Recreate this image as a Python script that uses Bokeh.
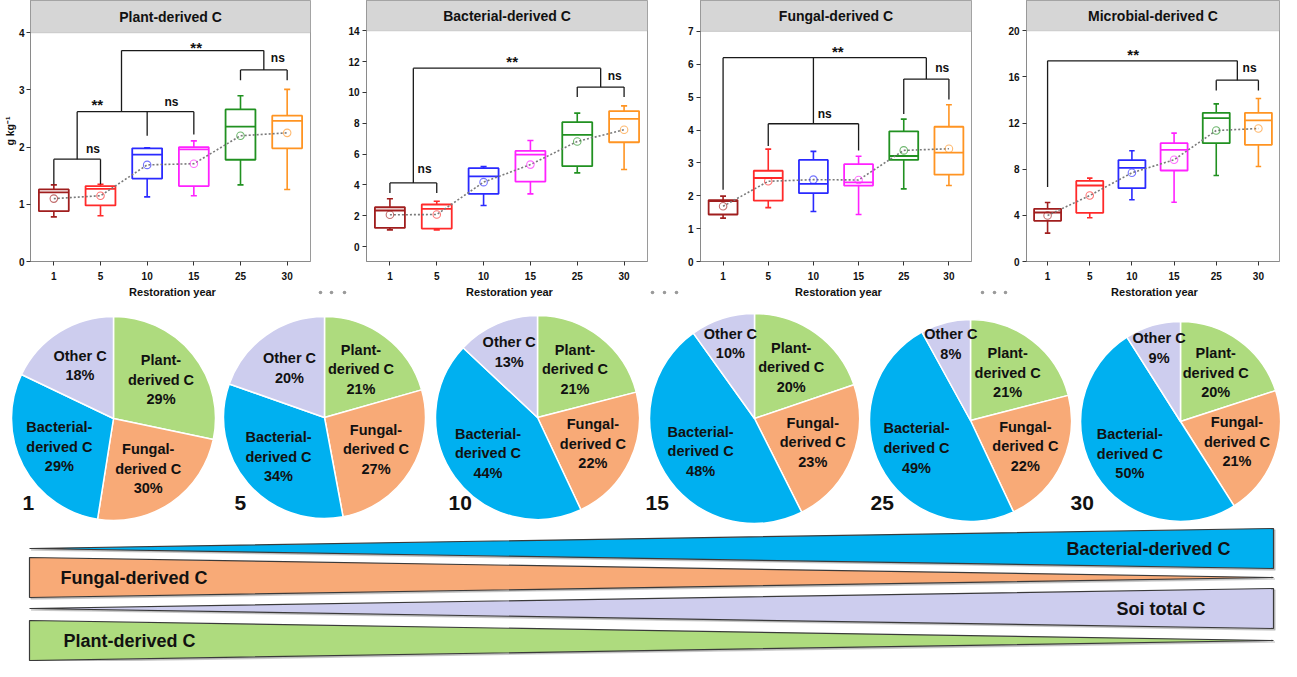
import math
from bokeh.plotting import figure
from bokeh.models import FactorRange, Range1d, FixedTicker, BoxAnnotation, Label, ColumnDataSource
from bokeh.layouts import row, column
from bokeh.embed import file_html
from bokeh.resources import INLINE
from bokeh.core.properties import value

FONT = "Liberation Sans"

# ---------------- data ----------------
years = ["1", "5", "10", "15", "25", "30"]
box_colors = ["#a01e1e", "#ff2a2a", "#2a2aff", "#ff22ff", "#219121", "#ff9422"]

# Plant-derived C (g kg-1)
plant_lo = [0.78, 0.80, 1.13, 1.15, 1.34, 1.26]
plant_q1 = [0.88, 0.98, 1.45, 1.32, 1.78, 1.98]
plant_med = [1.21, 1.27, 1.87, 1.96, 2.36, 2.46]
plant_q3 = [1.26, 1.32, 1.98, 2.00, 2.66, 2.55]
plant_hi = [1.34, 1.35, 1.99, 2.11, 2.90, 3.01]
plant_mean = [1.10, 1.15, 1.69, 1.71, 2.20, 2.25]

# Bacterial-derived C
bact_lo = [1.08, 1.08, 2.66, 3.42, 4.78, 5.00]
bact_q1 = [1.21, 1.17, 3.42, 4.22, 5.22, 6.77]
bact_med = [2.34, 2.45, 4.55, 5.97, 7.25, 8.29]
bact_q3 = [2.55, 2.73, 5.09, 6.21, 8.07, 8.79]
bact_hi = [3.10, 2.94, 5.19, 6.88, 8.66, 9.13]
bact_mean = [2.06, 2.08, 4.18, 5.32, 6.82, 7.58]

# Fungal-derived C
fung_lo = [1.32, 1.64, 1.52, 1.43, 2.21, 2.31]
fung_q1 = [1.43, 1.85, 2.08, 2.31, 3.09, 2.64]
fung_med = [1.84, 2.54, 2.36, 2.41, 3.21, 3.31]
fung_q3 = [1.87, 2.76, 3.09, 2.96, 3.96, 4.10]
fung_hi = [1.99, 3.42, 3.35, 3.20, 4.33, 4.77]
fung_mean = [1.68, 2.44, 2.49, 2.48, 3.38, 3.43]

# Microbial-derived C
micro_lo = [2.46, 3.79, 5.35, 5.14, 7.46, 8.24]
micro_q1 = [3.53, 4.22, 6.36, 7.89, 10.26, 10.12]
micro_med = [4.25, 6.59, 8.12, 9.68, 12.43, 12.23]
micro_q3 = [4.57, 6.99, 8.79, 10.26, 12.89, 12.89]
micro_hi = [5.12, 7.23, 9.60, 11.13, 13.67, 14.13]
micro_mean = [3.99, 5.72, 7.69, 8.82, 11.36, 11.53]

# significance brackets: (legs [(x on category axis, leg bottom)], bar height)
plant_brackets = [
    ([(0.5, 1.35), (1.5, 1.35)], 1.79),
    ([(1.0, 1.79), (2.5, 2.20), (3.5, 2.22)], 2.62),
    ([(4.5, 3.17), (5.5, 3.17)], 3.35),
    ([(1.95, 2.62), (5.0, 3.35)], 3.69),
]
plant_sig = [(1.34, 1.97, "ns"), (1.43, 2.75, "**"), (3.02, 2.79, "ns"),
             (5.30, 3.56, "ns"), (3.55, 3.74, "**")]

bact_brackets = [
    ([(0.5, 3.47), (1.5, 3.47)], 4.13),
    ([(4.5, 9.70), (5.5, 9.70)], 10.35),
    ([(1.0, 4.13), (5.0, 10.35)], 11.58),
]
bact_sig = [(1.24, 5.04, "ns"), (5.30, 11.10, "ns"), (3.11, 12.0, "**")]

fung_brackets = [
    ([(1.5, 3.51), (3.5, 3.38)], 4.19),
    ([(4.5, 4.49), (5.5, 4.93)], 5.55),
    ([(0.5, 2.18), (2.5, 4.19), (5.0, 5.55)], 6.20),
]
fung_sig = [(2.75, 4.49, "ns"), (5.35, 5.89, "ns"), (3.04, 6.38, "**")]

micro_brackets = [
    ([(4.5, 14.83), (5.5, 14.83)], 15.72),
    ([(0.5, 6.45), (5.0, 15.72)], 17.40),
]
micro_sig = [(5.29, 16.82, "ns"), (2.53, 17.98, "**")]

# pie charts: percentages shown and slice shares
pie_names = ["Plant-\nderived C", "Fungal-\nderived C", "Bacterial-\nderived C", "Other C"]
pie_colors = ["#aedb7e", "#f8aa77", "#00b0f0", "#cdcdee"]
plant_pct = [29, 21, 21, 20, 21, 20]
fungal_pct = [30, 27, 22, 23, 22, 21]
bact_pct = [29, 34, 44, 48, 49, 50]
other_pct = [18, 20, 13, 10, 8, 9]
plant_share = [28.3, 21, 21, 20, 21, 20]
fungal_share = [24.2, 27, 22, 23, 22, 21]
bact_share = [29.6, 34, 44, 48, 49, 50]
other_share = [17.9, 20, 13, 10, 8, 9]

# trend bands
band_names = ["Bacterial-derived C", "Fungal-derived C", "Soi total C", "Plant-derived C"]
band_colors = ["#00b0f0", "#f8aa77", "#cdcdee", "#aedb7e"]
band_trend = ["up", "down", "up", "down"]

# ---------------- layout constants ----------------
ROW_H = 284
MB_BOTTOM = 23
BOTTOM_H = 377


def box_panel(title, lo, q1, med, q3, hi, mean, y0, y1, ticks, brackets, sig,
              width, mbl, mbr, ylabel=None):
    p = figure(x_range=FactorRange(*years, range_padding=0), y_range=Range1d(y0, y1),
               width=width, height=ROW_H, output_backend="svg", toolbar_location=None,
               min_border_left=mbl, min_border_right=mbr, min_border_top=0,
               min_border_bottom=MB_BOTTOM)
    p.xgrid.visible = False
    p.ygrid.visible = False
    p.outline_line_color = "#9a9a9a"
    p.background_fill_color = "white"
    p.border_fill_color = "white"

    xs = [years.index(y) + 0.5 for y in years]
    src = ColumnDataSource(dict(
        x=xs, lo=lo, q1=q1, med=med, q3=q3, hi=hi, mean=mean, color=box_colors,
        xl=[x - 0.32 for x in xs], xr=[x + 0.32 for x in xs],
        cl=[x - 0.065 for x in xs], cr=[x + 0.065 for x in xs]))

    # whiskers + caps
    p.segment(x0="x", y0="q3", x1="x", y1="hi", source=src, line_color="color", line_width=1.6)
    p.segment(x0="x", y0="lo", x1="x", y1="q1", source=src, line_color="color", line_width=1.6)
    p.segment(x0="cl", y0="hi", x1="cr", y1="hi", source=src, line_color="color", line_width=1.6)
    p.segment(x0="cl", y0="lo", x1="cr", y1="lo", source=src, line_color="color", line_width=1.6)
    # boxes
    p.vbar(x="x", width=0.64, bottom="q1", top="q3", source=src, fill_color="white",
           line_color="color", line_width=1.8)
    p.segment(x0="xl", y0="med", x1="xr", y1="med", source=src, line_color="color", line_width=1.8)
    # mean trend
    p.line(x="x", y="mean", source=src, line_color="#7a7a7a", line_width=1.6, line_dash="2 2")
    p.scatter(x="x", y="mean", source=src, marker="circle", size=7.5, fill_color="white",
              fill_alpha=0.0, line_color="color", line_alpha=0.65, line_width=1.1)

    # significance brackets
    bx0, by0, bx1, by1 = [], [], [], []
    for legs, bar in brackets:
        lx = [l[0] for l in legs]
        bx0.append(min(lx)); bx1.append(max(lx)); by0.append(bar); by1.append(bar)
        for x, bot in legs:
            bx0.append(x); bx1.append(x); by0.append(bot); by1.append(bar)
    p.segment(x0=bx0, y0=by0, x1=bx1, y1=by1, line_color="#1a1a1a", line_width=1.3)
    p.text(x=[s[0] for s in sig], y=[s[1] for s in sig], text=[s[2] for s in sig],
           text_font=value(FONT), text_font_style="bold",
           text_font_size=["15px" if s[2] == "**" else "12px" for s in sig],
           text_align="center", text_baseline="middle", text_color="#111111")

    # title strip
    top_tick = ticks[-1]
    p.add_layout(BoxAnnotation(bottom=top_tick, fill_color="#d6d6d6", fill_alpha=1.0,
                               line_color="#8a8a8a", line_width=1))
    p.add_layout(Label(x=3, y=(top_tick + y1) / 2, text=title, text_align="center",
                       text_baseline="middle", text_font=FONT, text_font_size="14px",
                       text_font_style="bold", text_color="#111111"))

    # axes
    p.yaxis.ticker = FixedTicker(ticks=ticks)
    for ax in (p.xaxis[0], p.yaxis[0]):
        ax.axis_line_color = "#8a8a8a"
        ax.major_tick_line_color = "#333333"
        ax.major_tick_in = 0
        ax.major_tick_out = 4
        ax.minor_tick_line_color = None
        ax.major_label_text_font = FONT
        ax.major_label_text_font_style = "bold"
        ax.major_label_text_font_size = "10px"
        ax.major_label_text_color = "#111111"
        ax.axis_label_text_font = FONT
        ax.axis_label_text_font_style = "bold"
        ax.axis_label_text_color = "#111111"
    p.yaxis.major_label_standoff = 3
    p.xaxis.major_label_standoff = 6
    if ylabel:
        p.yaxis.major_label_standoff = 2
        p.yaxis.axis_label = ylabel
        p.yaxis.axis_label_text_font_size = "10.5px"
        p.yaxis.axis_label_standoff = 0
    return p


p1 = box_panel("Plant-derived C", plant_lo, plant_q1, plant_med, plant_q3, plant_hi, plant_mean,
               0, 4.565, [0, 1, 2, 3, 4], plant_brackets, plant_sig, 315, 28, 5,
               ylabel="g kg\u207b\u00b9")
p2 = box_panel("Bacterial-derived C", bact_lo, bact_q1, bact_med, bact_q3, bact_hi, bact_mean,
               -0.97, 15.97, [0, 2, 4, 6, 8, 10, 12, 14], bact_brackets, bact_sig, 334, 51, 2)
p3 = box_panel("Fungal-derived C", fung_lo, fung_q1, fung_med, fung_q3, fung_hi, fung_mean,
               0, 7.94, [0, 1, 2, 3, 4, 5, 6, 7], fung_brackets, fung_sig, 326, 51, 4)
p4 = box_panel("Microbial-derived C", micro_lo, micro_q1, micro_med, micro_q3, micro_hi, micro_mean,
               0, 22.63, [0, 4, 8, 12, 16, 20], micro_brackets, micro_sig, 306, 51, 2)

# ---------------- bottom: axis titles, pies, trend bands ----------------
pb = figure(width=1281, height=BOTTOM_H, x_range=Range1d(3, 1284), y_range=Range1d(-666, -289),
            output_backend="svg", toolbar_location=None, x_axis_location=None,
            y_axis_location=None, min_border=0)
pb.xgrid.visible = False
pb.ygrid.visible = False
pb.outline_line_color = None

# x-axis titles of the four box panels, and the separator dots
xtitle_x = [175, 512, 841, 1157]
pb.text(x=xtitle_x, y=[-296] * 4, text=["Restoration year"] * 4, text_font=value(FONT),
        text_font_style="bold", text_font_size="11px", text_align="center",
        text_baseline="middle", text_color="#111111")
dot_x = [323, 334, 347, 655, 667, 679, 985, 997, 1008]
pb.scatter(x=dot_x, y=[-297] * len(dot_x), marker="circle", size=3.6,
           fill_color="#9a9a9a", line_color=None)

pie_cx = [116, 327, 540, 757, 973, 1183]
pie_cy = [423, 422, 422, 423, 425, 426]
pie_r = [102, 101, 102, 105, 101, 100]
year_lx = [25, 237, 451, 648, 873, 1073]

wx, wy, wr, wa0, wa1, wc = [], [], [], [], [], []
tx, ty, tt = [], [], []
pcts = [plant_pct, fungal_pct, bact_pct, other_pct]
shares = [plant_share, fungal_share, bact_share, other_share]
for i in range(len(years)):
    tot = sum(s[i] for s in shares)
    cum = 0.0
    for k in range(4):
        f = shares[k][i] / tot
        a0 = math.pi / 2 - 2 * math.pi * cum
        a1 = math.pi / 2 - 2 * math.pi * (cum + f)
        wx.append(pie_cx[i]); wy.append(-pie_cy[i]); wr.append(pie_r[i])
        wa0.append(a0); wa1.append(a1); wc.append(pie_colors[k])
        mid = (a0 + a1) / 2
        fac = 0.6 if k < 3 else max(0.6, 0.92 - 1.7 * f)
        tx.append(pie_cx[i] + fac * pie_r[i] * math.cos(mid))
        ty.append(-pie_cy[i] + fac * pie_r[i] * math.sin(mid))
        tt.append(f"{pie_names[k]}\n{pcts[k][i]}%")
        cum += f

pb.wedge(x=wx, y=wy, radius=wr, start_angle=wa0, end_angle=wa1, direction="clock",
         fill_color=wc, line_color="white", line_width=1.5)
pb.text(x=tx, y=ty, text=tt, text_font=value(FONT), text_font_style="bold",
        text_font_size="14.5px", text_align="center", text_baseline="middle",
        text_line_height=1.22, text_color="#111111")
pb.text(x=year_lx, y=[-507] * 6, text=years, text_font=value(FONT), text_font_style="bold",
        text_font_size="21px", text_align="left", text_baseline="middle", text_color="#111111")

band_cy = [553, 582, 613, 645]
band_h = 20
bx_l, bx_r = 32, 1276
band_tx = [1233, 63, 1208, 66]
band_align = ["right", "left", "right", "left"]
pxs, pys, sxs, sys_ = [], [], [], []
for c, tr in zip(band_cy, band_trend):
    if tr == "up":
        xs_ = [bx_l, bx_r, bx_r]
        ys_ = [c, c - band_h, c + band_h]
    else:
        xs_ = [bx_l, bx_l, bx_r]
        ys_ = [c - band_h, c + band_h, c]
    pxs.append(xs_); pys.append([-y for y in ys_])
    sxs.append([x + 1.5 for x in xs_]); sys_.append([-(y + 1.5) for y in ys_])
pb.patches(xs=sxs, ys=sys_, fill_color="#9a9a9a", fill_alpha=0.45, line_color="#9a9a9a",
           line_alpha=0.45, line_width=1.5)
pb.patches(xs=pxs, ys=pys, fill_color=band_colors, line_color="#3a3a3a", line_width=1.2)
for name, x, al, c in zip(band_names, band_tx, band_align, band_cy):
    pb.text(x=[x], y=[-c], text=[name], text_font=value(FONT), text_font_style="bold",
            text_font_size="18px", text_align=al, text_baseline="middle", text_color="#111111")

layout = column(row(p1, p2, p3, p4), pb)
open("out.html", "w").write(file_html(layout, INLINE))
